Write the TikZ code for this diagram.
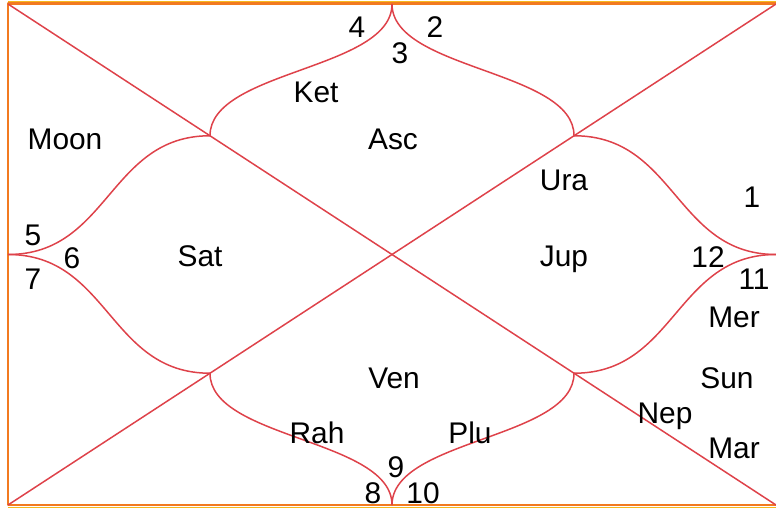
\documentclass[tikz,border=0pt]{standalone}
\usepackage{fontspec}
\setmainfont{Liberation Sans}
\usetikzlibrary{calc}
\definecolor{chartred}{RGB}{222,66,74}
\definecolor{chartorange}{RGB}{242,122,32}
\definecolor{chartyellow}{RGB}{246,184,30}

\begin{document}
\begin{tikzpicture}[x=0.02cm,y=-0.02cm,line join=round,
  house/.style={draw=chartred,line width=0.85pt},
  frame/.style={draw=chartorange,line width=1.7pt},
  lbl/.style={anchor=base,inner sep=0pt,font=\fontsize{17}{20}\selectfont}]

\useasboundingbox (0,0) rectangle (776,509);

% corners and mid points of the chart
\coordinate(tl) at (8,4);
\coordinate(tr) at (776,4);
\coordinate(bl) at (8,505);
\coordinate(br) at (776,505);
\coordinate(top) at (392,4);
\coordinate(bot) at (392,505);
\coordinate(lft) at (8,254.5);
\coordinate(rgt) at (776,254.5);
\coordinate(ul) at ($(tl)!0.263!(br)$);
\coordinate(lr) at ($(br)!0.263!(tl)$);
\coordinate(ur) at ($(tr)!0.263!(bl)$);
\coordinate(ll) at ($(bl)!0.263!(tr)$);

% frame
\draw[chartyellow,line width=1pt](tr)++(0,-2.5)--($(tl)+(0,-2.5)$);
\draw[chartyellow,line width=1pt](br)++(0,2.5)--($(bl)+(0,2.5)$);
\draw[frame](tr)--(tl)--(bl)--(br);

% diagonals
\draw[house](tl)--(br);
\draw[house](bl)--(tr);

% curved houses
\draw[house](top) .. controls (392,70) and (ul|-0,70) .. (ul);
\draw[house](top) .. controls (392,70) and (ur|-0,70) .. (ur);
\draw[house](bot) .. controls (392,439) and (ll|-0,439) .. (ll);
\draw[house](bot) .. controls (392,439) and (lr|-0,439) .. (lr);
\draw[house](lft) .. controls (109,254.5) and (109,0|-ul) .. (ul);
\draw[house](lft) .. controls (109,254.5) and (109,0|-ll) .. (ll);
\draw[house](rgt) .. controls (675.5,254.5) and (675.5,0|-ur) .. (ur);
\draw[house](rgt) .. controls (675.5,254.5) and (675.5,0|-lr) .. (lr);

% house numbers
\node[lbl](n1) at (752,208){1};
\node[lbl](n2) at (435,38){2};
\node[lbl](n3) at (400,64){3};
\node[lbl](n4) at (357,38){4};
\node[lbl](n5) at (33,246){5};
\node[lbl](n6) at (72,269){6};
\node[lbl](n7) at (33,290){7};
\node[lbl](n8) at (373,503){8};
\node[lbl](n9) at (396,477){9};
\node[lbl](n10) at (423,503){10};
\node[lbl](n11) at (754,290){11};
\node[lbl](n12) at (708,268){12};

% planets
\node[lbl](asc) at (393,150){Asc};
\node[lbl](ket) at (316,103){Ket};
\node[lbl](moon) at (65,150){Moon};
\node[lbl](ura) at (564,191){Ura};
\node[lbl](sat) at (200,267){Sat};
\node[lbl](jup) at (564,267){Jup};
\node[lbl](mer) at (734,327){Mer};
\node[lbl](ven) at (394,388){Ven};
\node[lbl](sun) at (727,388){Sun};
\node[lbl](nep) at (665,423){Nep};
\node[lbl](rah) at (317,443){Rah};
\node[lbl](plu) at (470,443){Plu};
\node[lbl](mar) at (734,458){Mar};

\end{tikzpicture}
\end{document}
